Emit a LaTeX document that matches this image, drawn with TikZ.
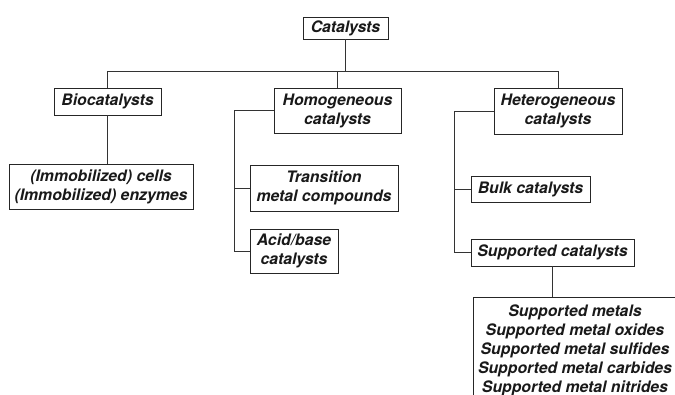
\documentclass[tikz,border=0pt]{standalone}
\usepackage{fontspec}
\setmainfont{TeX Gyre Heros}
\begin{document}
\begin{tikzpicture}[x=1pt,y=-1pt,
  box/.style={draw=black!85,line width=0.9pt,inner sep=0pt,align=center,
    font=\fontsize{15.8}{19}\selectfont\bfseries\itshape,text=black!90},
  link/.style={draw=black!80,line width=0.9pt}]
\useasboundingbox (0,0) rectangle (675,395);
\clip (0,0) rectangle (675,395);
\fill[white] (0,0) rectangle (675,395);
\node[box,minimum width=85pt,minimum height=22pt] (cat) at (345.5,28) {Catalysts};
\node[box,minimum width=107pt,minimum height=27pt] (bio) at (107.5,101.5) {Biocatalysts};
\node[box,minimum width=127pt,minimum height=45pt] (homo) at (337.5,110.5) {Homogeneous\\catalysts};
\node[box,minimum width=128pt,minimum height=46pt] (het) at (558,111) {Heterogeneous\\catalysts};
\node[box,minimum width=184pt,minimum height=45pt] (immo) at (101,186.5) {(Immobilized) cells\\(Immobilized) enzymes};
\node[box,minimum width=148pt,minimum height=46pt] (trans) at (324,188) {Transition\\metal compounds};
\node[box,minimum width=88pt,minimum height=44pt] (acid) at (294,251) {Acid/base\\catalysts};
\node[box,minimum width=119pt,minimum height=26pt] (bulk) at (530.5,189) {Bulk catalysts};
\node[box,minimum width=163pt,minimum height=27pt] (supc) at (552.5,252.5) {Supported catalysts};
\node[box,overlay,minimum width=204pt,minimum height=106pt] (supm) at (575,350) {Supported metals\\Supported metal oxides\\Supported metal sulfides\\Supported metal carbides\\Supported metal nitrides};
\coordinate (bar) at (345.5,71);
\coordinate (hs) at (234,110.5);
\coordinate (ts) at (454,111);
\draw[link] (cat.south) -- (bar);
\draw[link] (bar) -| (bio.north);
\draw[link] (bar) -| (homo.north);
\draw[link] (bar) -| (het.north);
\draw[link] (bio.south) -- (bio.south |- immo.north);
\draw[link] (homo.west) -- (hs) |- (acid.west);
\draw[link] (trans.west) -- (trans.west -| hs);
\draw[link] (het.west) -- (ts) |- (supc.west);
\draw[link] (bulk.west) -- (bulk.west -| ts);
\draw[link] (supc.south) -- (supc.south |- supm.north);
\end{tikzpicture}
\end{document}
